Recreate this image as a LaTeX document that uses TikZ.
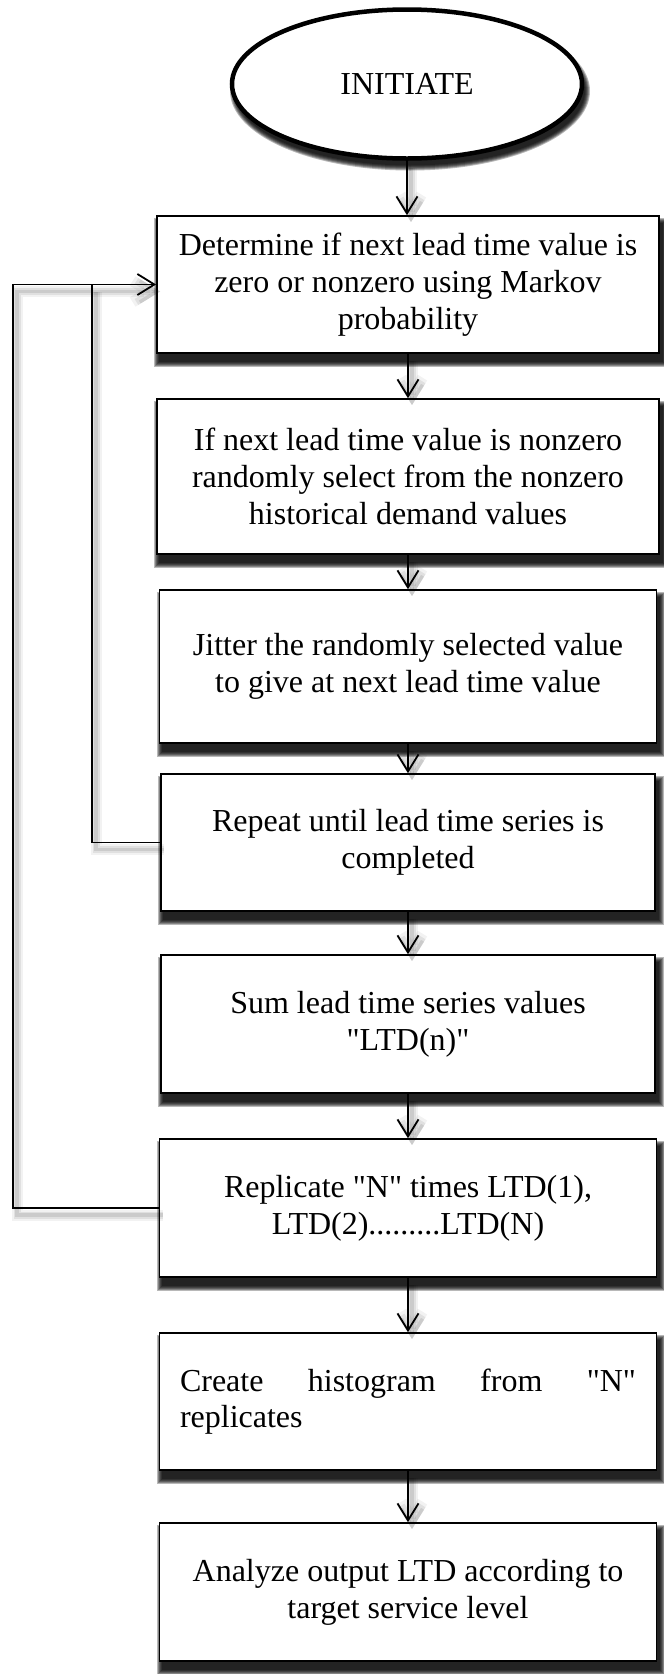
\documentclass[tikz,border=0pt]{standalone}
\usepackage{fontspec}
% plain family without the TeX input mapping, so " stays a straight quote
\newfontfamily\flowfont{Liberation Serif}
\usetikzlibrary{arrows.meta,shapes.geometric,calc}

\pgfdeclarelayer{paper}
\pgfdeclarelayer{shadow}
\pgfsetlayers{paper,shadow,main}

\tikzset{
  flowbox/.style={rectangle, draw=black, line width=1.8pt, fill=white,
      inner sep=0pt, align=center,
      font=\flowfont\fontsize{32}{36.7}\selectfont},
  startnode/.style={ellipse, draw=black, line width=4.5pt, fill=white,
      inner sep=0pt, minimum width=350pt, minimum height=149pt,
      font=\flowfont\fontsize{32}{36.7}\selectfont},
  softshade/.style={fill=black, fill opacity=0.28},
  conn/.style={line width=1.8pt, draw=black,
      preaction={draw=black, draw opacity=0.05, line width=11pt,
        transform canvas={shift={(4pt,-7pt)}}},
      preaction={draw=black, draw opacity=0.07, line width=7pt,
        transform canvas={shift={(4pt,-7pt)}}},
      preaction={draw=black, draw opacity=0.09, line width=3.5pt,
        transform canvas={shift={(4pt,-7pt)}}}},
  flowarrow/.style={conn, -{Straight Barb[length=17pt,width=21pt]}}
}

% soft drop shadow behind a rectangular node
\newcommand\boxshade[1]{%
  \foreach \r in {5,4,3,2,1,0}{%
    \fill[softshade]
      ($(#1.south west)+(3pt-\r pt,-8pt-\r pt)$) rectangle
      ($(#1.north east)+(3pt+\r pt,-8pt+\r pt)$);}}

\begin{document}
\begin{tikzpicture}[x=1pt,y=1pt]
  \useasboundingbox (0,0) rectangle (664,-1674);
  \begin{pgfonlayer}{paper}
    \fill[white] (0,0) rectangle (664,-1674);
  \end{pgfonlayer}

  % start
  \node[startnode] (start) at (407,-84) {INITIATE};

  % process steps
  \node[flowbox, minimum width=502pt, minimum height=137pt] (b1) at (408,-284.5)
    {Determine if next lead time value is\\zero or nonzero using Markov\\probability};
  \node[flowbox, minimum width=502pt, minimum height=155pt] (b2) at (408,-476.5)
    {If next lead time value is nonzero\\randomly select from the nonzero\\historical demand values};
  \node[flowbox, minimum width=497pt, minimum height=153pt] (b3) at (408,-666.5)
    {Jitter the randomly selected value\\to give at next lead time value};
  \node[flowbox, minimum width=494pt, minimum height=137pt] (b4) at (408,-842.5)
    {Repeat until lead time series is\\completed};
  \node[flowbox, minimum width=494pt, minimum height=138pt] (b5) at (408,-1024)
    {Sum lead time series values\\"LTD(n)"};
  \node[flowbox, minimum width=497pt, minimum height=138pt] (b6) at (408,-1208)
    {Replicate "N" times LTD(1),\\LTD(2).........LTD(N)};
  \node[flowbox, minimum width=497pt, minimum height=137pt, text width=456pt,
        align=left] (b7) at (408,-1401.5)
    {Create\hfill histogram\hfill from\hfill "N"\\replicates};
  \node[flowbox, minimum width=497pt, minimum height=138pt] (b8) at (408,-1592)
    {Analyze output LTD according to\\target service level};

  % drop shadows
  \begin{pgfonlayer}{shadow}
    \foreach \r in {5,4,3,2,1,0}{%
      \fill[softshade] ($(start.center)+(3pt,-7pt)$)
        ellipse [x radius=175pt+\r pt, y radius=74.5pt+\r pt];}
    \foreach \b in {b1,b2,b3,b4,b5,b6,b7,b8}{\boxshade{\b}}
  \end{pgfonlayer}

  % main flow
  \draw[flowarrow] (start.south) -- (start.south |- b1.north);
  \draw[flowarrow] (b1.south) -- (b2.north);
  \draw[flowarrow] (b2.south) -- (b3.north);
  \draw[flowarrow] (b3.south) -- (b4.north);
  \draw[flowarrow] (b4.south) -- (b5.north);
  \draw[flowarrow] (b5.south) -- (b6.north);
  \draw[flowarrow] (b6.south) -- (b7.north);
  \draw[flowarrow] (b7.south) -- (b8.north);

  % feedback loops
  \coordinate (outerx) at (13,0);
  \coordinate (innerx) at (92,0);
  \draw[conn] (b4.west) -- (b4.west -| innerx) -- (b1.west -| innerx);
  \draw[flowarrow] (b6.west) -- (b6.west -| outerx) -- (b1.west -| outerx) -- (b1.west);
\end{tikzpicture}
\end{document}
